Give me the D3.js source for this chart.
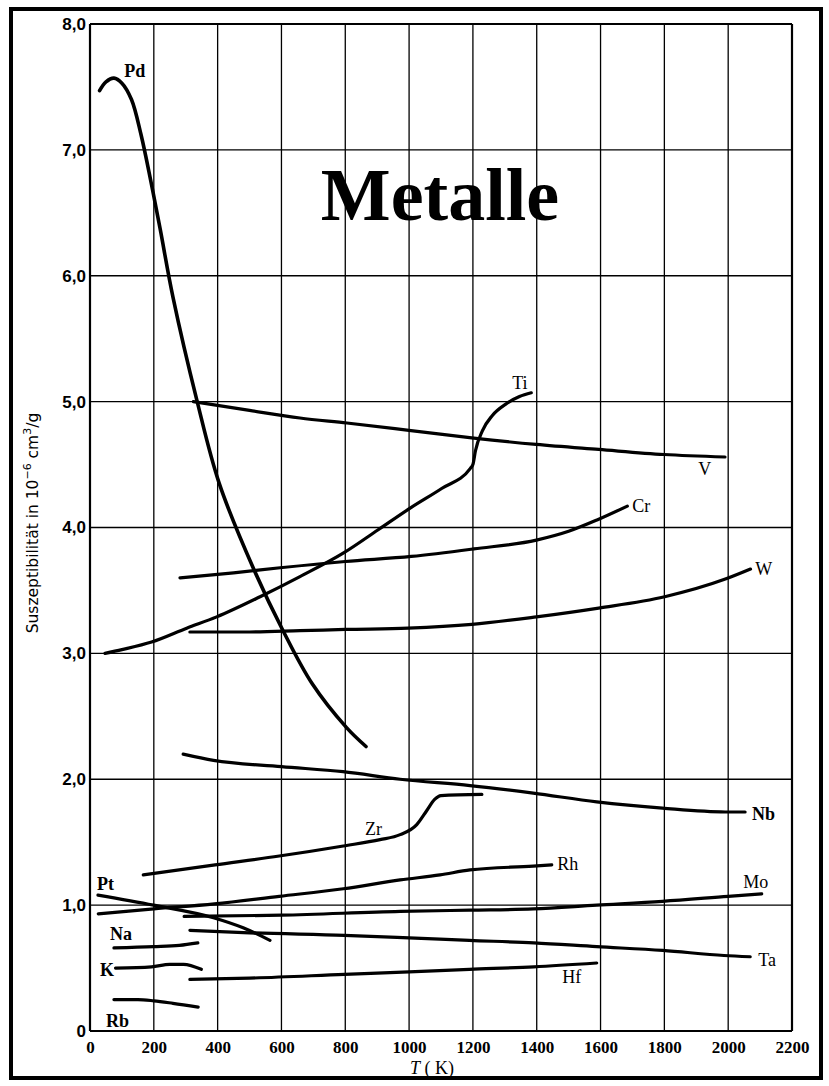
<!DOCTYPE html>
<html>
<head>
<meta charset="utf-8">
<script src="https://cdn.jsdelivr.net/npm/d3@7"></script>
<style>
  html, body { margin: 0; padding: 0; background: #fff; }
  svg { display: block; }
</style>
</head>
<body>
<script>
// Magnetic susceptibility of metals vs. temperature (10^-6 cm^3/g)
const xTicks = [0, 200, 400, 600, 800, 1000, 1200, 1400, 1600, 1800, 2000, 2200];
const xTickLabels = ["0", "200", "400", "600", "800", "1000", "1200", "1400", "1600", "1800", "2000", "2200"];
const yTicks = [0, 1, 2, 3, 4, 5, 6, 7, 8];
const yTickLabels = ["0", "1,0", "2,0", "3,0", "4,0", "5,0", "6,0", "7,0", "8,0"];

// [T (K), susceptibility]
const pd = [[30,7.47],[50,7.54],[75,7.57],[100,7.53],[130,7.4],[160,7.12],[190,6.76],[220,6.37],[260,5.83],[335,5.01],[405,4.35],[513,3.67],[605,3.18],[696,2.76],[804,2.41],[865,2.26]];
const ti = [[47,3.0],[100,3.03],[193,3.09],[303,3.2],[397,3.29],[533,3.45],[658,3.61],[796,3.8],[902,3.98],[1007,4.16],[1102,4.31],[1192,4.47],[1200,4.5],[1208,4.61],[1230,4.77],[1261,4.89],[1303,4.98],[1346,5.04],[1383,5.07]];
const v  = [[324,5.0],[500,4.93],[658,4.87],[805,4.83],[1006,4.77],[1203,4.71],[1398,4.66],[1594,4.62],[1799,4.58],[1990,4.56]];
const cr = [[282,3.6],[450,3.64],[596,3.68],[800,3.73],[1007,3.77],[1203,3.83],[1399,3.9],[1500,3.97],[1589,4.06],[1684,4.17]];
const w  = [[313,3.17],[500,3.17],[658,3.18],[800,3.19],[997,3.2],[1197,3.23],[1399,3.29],[1594,3.36],[1801,3.45],[1991,3.59],[2070,3.67]];
const nb = [[292,2.2],[387,2.15],[600,2.1],[793,2.06],[972,2.0],[1191,1.95],[1389,1.89],[1588,1.82],[1794,1.77],[1991,1.74],[2053,1.74]];
const zr = [[167,1.24],[392,1.32],[593,1.39],[794,1.47],[909,1.52],[972,1.56],[1024,1.64],[1055,1.75],[1080,1.84],[1100,1.87],[1228,1.88]];
const rh = [[26,0.93],[200,0.97],[390,1.01],[593,1.07],[794,1.13],[972,1.2],[1097,1.24],[1191,1.28],[1389,1.31],[1447,1.32]];
const mo = [[295,0.91],[600,0.92],[972,0.95],[1191,0.96],[1389,0.97],[1588,1.0],[1794,1.03],[2000,1.07],[2105,1.09]];
const pt = [[25,1.08],[199,1.0],[387,0.9],[480,0.82],[564,0.72]];
const ta = [[313,0.8],[500,0.78],[797,0.76],[1000,0.74],[1189,0.72],[1391,0.7],[1588,0.67],[1795,0.64],[1987,0.6],[2069,0.59]];
const na = [[75,0.66],[200,0.67],[280,0.68],[338,0.7]];
const k  = [[80,0.5],[193,0.51],[250,0.53],[293,0.53],[349,0.49]];
const hf = [[313,0.41],[500,0.42],[797,0.45],[1000,0.47],[1189,0.49],[1391,0.51],[1588,0.54]];
const rb = [[75,0.25],[150,0.25],[200,0.24],[260,0.22],[339,0.19]];

const series = [pd, ti, v, cr, w, nb, zr, rh, mo, pt, ta, na, k, hf, rb];

// element names placed at (T, susceptibility)
const labelNames = ["Pd", "Ti", "V", "Cr", "W", "Nb", "Zr", "Rh", "Mo", "Ta", "Hf", "Pt", "Na", "K", "Rb"];
const labelT     = [107, 1323, 1906, 1699, 2085, 2075, 862, 1464, 2047, 2094, 1480, 22, 63, 31, 50];
const labelS     = [7.58, 5.10, 4.42, 4.12, 3.62, 1.68, 1.56, 1.28, 1.14, 0.52, 0.38, 1.12, 0.72, 0.44, 0.03];
const boldNames = new Set(["Pd", "Nb", "Pt", "Na", "K", "Rb"]);

const W = 829, H = 1086;
const svg = d3.select("body").append("svg").attr("width", W).attr("height", H);

// outer frame
svg.append("rect").attr("x", 11).attr("y", 9).attr("width", 810).attr("height", 1069)
  .attr("fill", "none").attr("stroke", "#000").attr("stroke-width", 4);

const x = d3.scaleLinear().domain([0, 2200]).range([90, 792]);
const y = d3.scaleLinear().domain([0, 8]).range([1031, 24]);

// grid
const grid = svg.append("g").attr("stroke", "#000").attr("stroke-width", 1.3);
grid.selectAll("line.v").data(xTicks.slice(1)).join("line")
  .attr("x1", d => x(d)).attr("x2", d => x(d))
  .attr("y1", y(8)).attr("y2", y(0));
grid.selectAll("line.h").data(yTicks.slice(1)).join("line")
  .attr("x1", x(0)).attr("x2", x(2200))
  .attr("y1", d => y(d)).attr("y2", d => y(d));

// frame of the plot area
const frame = svg.append("g").attr("stroke", "#000").attr("stroke-width", 2.2);
frame.append("line").attr("x1", x(0)).attr("x2", x(0)).attr("y1", y(8)).attr("y2", y(0));
frame.append("line").attr("x1", x(0)).attr("x2", x(2200)).attr("y1", y(0)).attr("y2", y(0));
frame.append("line").attr("x1", x(0)).attr("x2", x(2200)).attr("y1", y(8)).attr("y2", y(8));
frame.append("line").attr("x1", x(2200)).attr("x2", x(2200)).attr("y1", y(8)).attr("y2", y(0));

// tick labels
const xAxis = svg.append("g").attr("transform", `translate(0,${y(0)})`)
  .call(d3.axisBottom(x).tickValues(xTicks).tickFormat((d, i) => xTickLabels[i]).tickSize(0).tickPadding(10));
xAxis.select(".domain").remove();
xAxis.selectAll("text").attr("font-family", "Liberation Serif").attr("font-weight", "bold")
  .attr("font-size", 17).attr("fill", "#000");

const yAxis = svg.append("g").attr("transform", `translate(${x(0)},0)`)
  .call(d3.axisLeft(y).tickValues(yTicks).tickFormat((d, i) => yTickLabels[i]).tickSize(0).tickPadding(4));
yAxis.select(".domain").remove();
yAxis.selectAll("text").attr("font-family", "Liberation Sans").attr("font-weight", "bold")
  .attr("font-size", 17).attr("fill", "#000");

// curves
const smooth = d3.line().x(d => x(d[0])).y(d => y(d[1])).curve(d3.curveCatmullRom.alpha(0.5));
const mono = d3.line().x(d => x(d[0])).y(d => y(d[1])).curve(d3.curveMonotoneX);
svg.append("g").selectAll("path").data(series).join("path")
  .attr("d", (d, i) => i === 0 ? smooth(d) : mono(d))
  .attr("fill", "none").attr("stroke", "#000")
  .attr("stroke-width", (d, i) => i === 0 ? 3.6 : 3.2)
  .attr("stroke-linecap", "round").attr("stroke-linejoin", "round");

// element labels
svg.append("g").selectAll("text").data(labelNames).join("text")
  .attr("x", (d, i) => x(labelT[i])).attr("y", (d, i) => y(labelS[i]))
  .attr("font-family", "Liberation Serif").attr("font-size", 18)
  .attr("font-weight", d => boldNames.has(d) ? "bold" : "normal")
  .attr("fill", "#000").text(d => d);

// title
svg.append("text").attr("x", 440).attr("y", 220).attr("text-anchor", "middle")
  .attr("font-family", "Liberation Serif").attr("font-weight", "bold").attr("font-size", 74)
  .attr("fill", "#000").text("Metalle");

// axis titles
const yTitle = svg.append("text").attr("transform", "translate(38,523) rotate(-90)")
  .attr("text-anchor", "middle").attr("font-family", "DejaVu Sans").attr("font-size", 15.5).attr("fill", "#000");
yTitle.append("tspan").text("Suszeptibilität in 10");
yTitle.append("tspan").attr("dy", -7).attr("font-size", 11).text("−6");
yTitle.append("tspan").attr("dy", 7).text(" cm");
yTitle.append("tspan").attr("dy", -7).attr("font-size", 11).text("3");
yTitle.append("tspan").attr("dy", 7).text("/g");

const xTitle = svg.append("text").attr("x", 432).attr("y", 1074).attr("text-anchor", "middle")
  .attr("font-family", "Liberation Serif").attr("font-size", 18).attr("fill", "#000");
xTitle.append("tspan").attr("font-style", "italic").text("T");
xTitle.append("tspan").text(" ( K)");
</script>
</body>
</html>
